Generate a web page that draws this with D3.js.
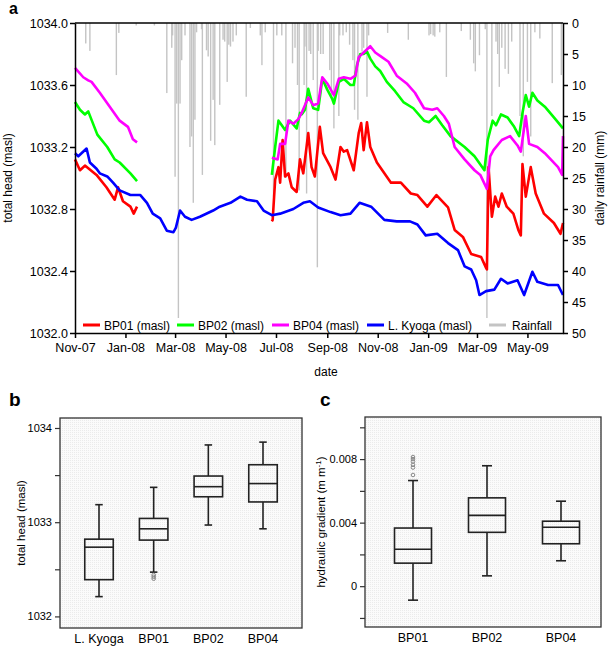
<!DOCTYPE html>
<html><head><meta charset="utf-8">
<script src="https://cdn.jsdelivr.net/npm/d3@7"></script>
<style>
body{margin:0;background:#fff;}
svg{display:block;font-family:"Liberation Sans",Arial,sans-serif;}
</style></head>
<body>
<svg id="chart" width="608" height="648"></svg>
<script>
// ---------------- DATA ----------------
const rainfall = [
["2007-11-14",3.3],["2007-11-19",4.5],["2007-12-21",8.4],["2007-12-24",1.6],["2008-01-14",0.4],["2008-02-05",0.4],
["2008-02-20",11.3],["2008-02-26",4],["2008-02-27",2],["2008-03-01",24.8],["2008-03-03",13],["2008-03-05",49],
["2008-03-07",13],["2008-03-09",6],["2008-03-13",2],["2008-03-19",20],["2008-03-21",18.3],["2008-03-23",29],
["2008-03-25",15.6],["2008-03-27",1.5],["2008-04-02",1],["2008-04-03",24.5],["2008-04-08",4.4],["2008-04-10",5.4],
["2008-04-13",19],["2008-04-16",12.4],["2008-04-18",19.7],["2008-04-24",13.2],["2008-04-28",2.7],["2008-04-30",3],
["2008-05-03",9.5],["2008-05-05",3.5],["2008-05-07",3.8],["2008-05-10",3],["2008-05-14",2],["2008-05-26",11.9],
["2008-05-31",0.8],["2008-06-12",2],["2008-06-14",6.8],["2008-06-18",1.5],["2008-06-28",28],["2008-07-02",2],
["2008-07-08",2],["2008-07-13",25],["2008-07-21",6.5],["2008-07-24",4],["2008-07-27",10],["2008-07-29",27],
["2008-08-04",10],["2008-08-05",3.8],["2008-08-07",27.5],["2008-08-10",4.5],["2008-08-12",5],["2008-08-15",9.2],
["2008-08-20",39.4],["2008-08-21",4.5],["2008-08-24",5],["2008-08-27",5],["2008-09-04",7.6],["2008-09-06",11.6],
["2008-09-09",17],["2008-09-15",15],["2008-09-16",2],["2008-09-20",2],["2008-09-24",1.5],["2008-09-28",3.5],
["2008-10-02",6],["2008-10-04",14],["2008-10-08",15.6],["2008-10-13",4.6],["2008-10-15",4],["2008-10-19",11.9],
["2008-10-21",2],["2008-11-13",1.6],["2008-12-08",2.7],["2009-01-02",2],["2009-01-04",1.8],["2009-01-07",2],
["2009-01-09",2.2],["2009-01-15",1.5],["2009-01-23",8.7],["2009-02-10",1.3],["2009-02-21",2.7],["2009-02-25",6.5],
["2009-02-27",7.8],["2009-03-04",5.2],["2009-03-11",1],["2009-03-13",49],["2009-03-19",15],["2009-03-24",3],
["2009-03-26",5],["2009-03-28",10.3],["2009-03-31",4],["2009-04-04",7.4],["2009-04-08",8.2],["2009-04-12",3],
["2009-04-22",15],["2009-04-26",21.5],["2009-05-01",9.5],["2009-05-05",18.3],["2009-05-10",1.5],["2009-05-16",2.5],
["2009-05-31",9.7],["2009-06-11",8.4]
];

const bp01 = [
["2007-11-01",1033.12],["2007-11-07",1033.05],["2007-11-09",1033.06],["2007-11-13",1033.08],["2007-11-27",1033.02],
["2007-12-09",1032.94],["2007-12-19",1032.86],["2007-12-23",1032.94],["2007-12-29",1032.85],["2008-01-07",1032.815],
["2008-01-11",1032.77],["2008-01-15",1032.815],
["2008-03-01",null],
["2008-06-26",1032.72],["2008-06-27",1032.73],["2008-06-30",1032.99],["2008-07-04",1033.07],["2008-07-06",1032.97],
["2008-07-09",1033.245],["2008-07-12",1033.01],["2008-07-16",1033.03],["2008-07-20",1032.94],["2008-07-26",1032.91],
["2008-07-30",1033.12],["2008-08-03",1033.03],["2008-08-09",1033.29],["2008-08-13",1033.07],["2008-08-17",1033.01],
["2008-08-23",1033.33],["2008-08-27",1033.16],["2008-09-05",1033.07],["2008-09-11",1032.99],["2008-09-17",1033.20],
["2008-09-21",1033.17],["2008-09-25",1033.18],["2008-10-03",1033.05],["2008-10-09",1033.29],["2008-10-12",1033.355],
["2008-10-15",1033.18],["2008-10-19",1033.36],["2008-10-23",1033.20],["2008-10-31",1033.10],["2008-11-17",1032.97],
["2008-11-29",1032.97],["2008-12-11",1032.90],["2008-12-19",1032.89],["2008-12-31",1032.815],["2009-01-11",1032.89],
["2009-01-25",1032.81],["2009-02-02",1032.665],["2009-02-12",1032.62],["2009-02-22",1032.51],["2009-03-06",1032.49],
["2009-03-12",1032.42],["2009-03-13",1032.41],["2009-03-15",1033.07],["2009-03-19",1032.75],["2009-03-23",1032.88],
["2009-03-27",1032.815],["2009-03-31",1032.90],["2009-04-06",1032.815],["2009-04-14",1032.77],["2009-04-20",1032.665],
["2009-04-23",1032.63],["2009-04-25",1033.09],["2009-04-29",1032.88],["2009-05-05",1033.07],["2009-05-11",1032.90],
["2009-05-21",1032.77],["2009-06-02",1032.71],["2009-06-10",1032.64],["2009-06-13",1032.71]
];

const bp02 = [
["2007-11-01",1033.49],["2007-11-07",1033.44],["2007-11-13",1033.41],["2007-11-17",1033.43],["2007-11-28",1033.28],
["2007-12-10",1033.20],["2007-12-19",1033.12],["2007-12-25",1033.10],["2008-01-07",1033.03],["2008-01-15",1032.98],
["2008-03-01",null],
["2008-06-26",1033.02],["2008-06-30",1033.20],["2008-07-04",1033.37],["2008-07-08",1033.34],["2008-07-12",1033.31],
["2008-07-18",1033.37],["2008-07-26",1033.32],["2008-07-30",1033.42],["2008-08-01",1033.41],["2008-08-05",1033.44],
["2008-08-09",1033.575],["2008-08-15",1033.45],["2008-08-21",1033.44],["2008-08-26",1033.64],["2008-09-01",1033.57],
["2008-09-07",1033.51],["2008-09-09",1033.48],["2008-09-15",1033.62],["2008-09-21",1033.64],["2008-09-29",1033.60],
["2008-10-03",1033.60],["2008-10-07",1033.73],["2008-10-11",1033.80],["2008-10-15",1033.80],["2008-10-19",1033.815],
["2008-10-23",1033.77],["2008-10-29",1033.72],["2008-11-04",1033.69],["2008-11-12",1033.62],["2008-11-22",1033.56],
["2008-12-02",1033.49],["2008-12-14",1033.45],["2008-12-27",1033.37],["2009-01-02",1033.36],["2009-01-10",1033.40],
["2009-01-18",1033.34],["2009-01-28",1033.27],["2009-02-14",1033.20],["2009-02-26",1033.14],["2009-03-10",1033.05],
["2009-03-14",1033.245],["2009-03-20",1033.37],["2009-03-24",1033.34],["2009-03-30",1033.41],["2009-04-07",1033.39],
["2009-04-15",1033.33],["2009-04-21",1033.27],["2009-04-25",1033.42],["2009-04-29",1033.535],["2009-05-03",1033.46],
["2009-05-07",1033.55],["2009-05-13",1033.50],["2009-05-22",1033.46],["2009-06-03",1033.385],["2009-06-13",1033.32]
];

const bp04 = [
["2007-11-01",1033.71],["2007-11-11",1033.65],["2007-11-17",1033.63],["2007-11-21",1033.62],["2007-12-01",1033.55],
["2007-12-13",1033.46],["2007-12-25",1033.37],["2008-01-04",1033.33],["2008-01-10",1033.25],["2008-01-15",1033.23],
["2008-03-01",null],
["2008-06-26",1033.13],["2008-07-03",1033.12],["2008-07-06",1033.22],["2008-07-12",1033.22],["2008-07-16",1033.37],
["2008-07-22",1033.35],["2008-07-28",1033.38],["2008-08-01",1033.42],["2008-08-09",1033.52],["2008-08-15",1033.47],
["2008-08-21",1033.48],["2008-08-26",1033.65],["2008-09-01",1033.61],["2008-09-09",1033.535],["2008-09-15",1033.64],
["2008-09-21",1033.65],["2008-09-29",1033.64],["2008-10-05",1033.66],["2008-10-09",1033.78],["2008-10-15",1033.81],
["2008-10-23",1033.85],["2008-10-29",1033.81],["2008-11-06",1033.78],["2008-11-14",1033.75],["2008-11-24",1033.66],
["2008-12-06",1033.61],["2008-12-16",1033.55],["2008-12-27",1033.45],["2009-01-06",1033.44],["2009-01-12",1033.45],
["2009-01-20",1033.40],["2009-01-26",1033.35],["2009-02-02",1033.20],["2009-02-14",1033.12],["2009-02-26",1033.05],
["2009-03-05",1033.02],["2009-03-13",1032.93],["2009-03-17",1033.14],["2009-03-21",1033.18],["2009-03-31",1033.245],
["2009-04-10",1033.27],["2009-04-19",1033.21],["2009-04-23",1033.17],["2009-04-29",1033.40],["2009-05-03",1033.22],
["2009-05-13",1033.20],["2009-05-22",1033.16],["2009-06-07",1033.07],["2009-06-12",1033.02],["2009-06-13",1033.27]
];

const kyoga = [
["2007-11-01",1033.16],["2007-11-05",1033.14],["2007-11-15",1033.19],["2007-11-19",1033.10],["2007-11-27",1033.06],
["2007-12-01",1033.03],["2007-12-10",1033.01],["2007-12-17",1032.97],["2007-12-25",1032.92],["2008-01-07",1032.89],
["2008-01-19",1032.89],["2008-01-27",1032.84],["2008-02-03",1032.77],["2008-02-12",1032.74],["2008-02-20",1032.66],
["2008-02-28",1032.65],["2008-03-02",1032.68],["2008-03-07",1032.79],["2008-03-13",1032.75],["2008-03-21",1032.73],
["2008-03-31",1032.75],["2008-04-16",1032.79],["2008-04-24",1032.815],["2008-05-07",1032.84],["2008-05-19",1032.88],
["2008-05-27",1032.86],["2008-06-08",1032.85],["2008-06-16",1032.79],["2008-06-26",1032.76],["2008-07-06",1032.77],
["2008-07-22",1032.80],["2008-08-03",1032.84],["2008-08-11",1032.85],["2008-08-21",1032.81],["2008-09-05",1032.78],
["2008-09-17",1032.76],["2008-09-29",1032.77],["2008-10-10",1032.84],["2008-10-24",1032.815],["2008-11-09",1032.73],
["2008-11-24",1032.72],["2008-12-10",1032.72],["2008-12-19",1032.70],["2008-12-29",1032.63],["2009-01-12",1032.64],
["2009-01-25",1032.58],["2009-02-06",1032.535],["2009-02-14",1032.43],["2009-02-22",1032.41],["2009-02-28",1032.34],
["2009-03-04",1032.245],["2009-03-12",1032.27],["2009-03-22",1032.28],["2009-03-30",1032.35],["2009-04-07",1032.32],
["2009-04-19",1032.34],["2009-04-27",1032.245],["2009-05-07",1032.395],["2009-05-13",1032.33],["2009-05-26",1032.31],
["2009-06-07",1032.31],["2009-06-13",1032.245]
];

const headTicks = [1032.0, 1032.4, 1032.8, 1033.2, 1033.6, 1034.0];
const rainTicks = [0, 5, 10, 15, 20, 25, 30, 35, 40, 45, 50];

// panel b: total head box plots
const bCategories = ["L. Kyoga", "BP01", "BP02", "BP04"];
const bLower  = [1032.21, 1032.47, 1032.97, 1032.93];
const bQ1     = [1032.39, 1032.81, 1033.27, 1033.215];
const bMedian = [1032.735, 1032.93, 1033.377, 1033.41];
const bQ3     = [1032.82, 1033.04, 1033.49, 1033.61];
const bUpper  = [1033.186, 1033.37, 1033.82, 1033.85];
const bOutliers = [["BP01",1032.44],["BP01",1032.42],["BP01",1032.40]];
const bTicks = [1032, 1032.5, 1033, 1033.5, 1034];
const bLabels = [1032, 1033, 1034];

// panel c: hydraulic gradient box plots
const cCategories = ["BP01", "BP02", "BP04"];
const cLower  = [-0.00088, 0.00065, 0.0016];
const cQ1     = [0.00145, 0.00339, 0.00267];
const cMedian = [0.00232, 0.00446, 0.00371];
const cQ3     = [0.00366, 0.00556, 0.00409];
const cUpper  = [0.00665, 0.00758, 0.00535];
const cOutliers = [["BP01",0.0070],["BP01",0.00747],["BP01",0.00764],["BP01",0.00785],["BP01",0.0080],["BP01",0.00813]];
const cTicks = [-0.002, 0, 0.002, 0.004, 0.006, 0.008, 0.010];
const cLabels = [0, 0.004, 0.008];

// ---------------- DRAW ----------------
const parse = d3.timeParse("%Y-%m-%d");
const svg = d3.select("#chart");
const FONT = '"Liberation Sans",Arial,sans-serif';

// ===== Panel a =====
const L = 75, R = 563, T = 23, B = 333;
const x = d3.scaleTime().domain([parse("2007-11-01"), parse("2009-06-13")]).range([L, R]);
const yH = d3.scaleLinear().domain([1032, 1034]).range([B, T]);
const yR = d3.scaleLinear().domain([0, 50]).range([T, B]);

const gA = svg.append("g");

// rainfall bars
gA.append("g").selectAll("rect").data(rainfall).join("rect")
  .attr("x", d => x(parse(d[0])) - 0.7)
  .attr("y", T)
  .attr("width", 1.4)
  .attr("height", d => yR(d[1]) - T)
  .attr("fill", "#c4c4c4");

// lines
const line = d3.line()
  .defined(d => d[1] !== null)
  .x(d => x(parse(d[0])))
  .y(d => yH(d[1]))
  .curve(d3.curveLinear);

const series = [
  {data: bp01, color: "#ff0000"},
  {data: bp02, color: "#00ff00"},
  {data: bp04, color: "#ff00ff"},
  {data: kyoga, color: "#0000ff"}
];
series.forEach(s => {
  gA.append("path").datum(s.data)
    .attr("d", line)
    .attr("fill", "none")
    .attr("stroke", s.color)
    .attr("stroke-width", 2.6)
    .attr("stroke-linejoin", "round");
});

// legend (white background)
gA.append("rect").attr("x", L + 1).attr("y", 318).attr("width", R - L - 2).attr("height", 14).attr("fill", "#fff");
const legendItems = [
  {label: "BP01 (masl)", color: "#ff0000", x0: 83},
  {label: "BP02 (masl)", color: "#00ff00", x0: 177},
  {label: "BP04 (masl)", color: "#ff00ff", x0: 272},
  {label: "L. Kyoga (masl)", color: "#0000ff", x0: 367},
  {label: "Rainfall", color: "#c4c4c4", x0: 489}
];
const lg = gA.append("g").selectAll("g").data(legendItems).join("g");
lg.append("line").attr("x1", d => d.x0).attr("x2", d => d.x0 + 17)
  .attr("y1", 325).attr("y2", 325).attr("stroke", d => d.color).attr("stroke-width", 3);
lg.append("text").attr("x", d => d.x0 + 21 + (d.label === "Rainfall" ? 2 : 0)).attr("y", 329.5)
  .attr("font-size", 12).attr("font-family", FONT).text(d => d.label);

// axes
const axLeft = gA.append("g").attr("transform", `translate(${L},0)`)
  .call(d3.axisLeft(yH).tickValues(headTicks).tickFormat(d3.format(".1f")).tickSize(5).tickSizeOuter(0));
const axBottom = gA.append("g").attr("transform", `translate(0,${B})`)
  .call(d3.axisBottom(x).ticks(d3.timeMonth.every(2)).tickFormat(d3.timeFormat("%b-%y")).tickSize(5).tickSizeOuter(0));
const axRight = gA.append("g").attr("transform", `translate(${R},0)`)
  .call(d3.axisRight(yR).tickValues(rainTicks).tickSize(5).tickSizeOuter(0));
gA.append("line").attr("x1", L).attr("x2", R).attr("y1", T).attr("y2", T).attr("stroke", "#000").attr("stroke-width", 1.5);

[axLeft, axBottom, axRight].forEach(a => {
  a.selectAll("text").attr("font-size", 12.5).attr("font-family", FONT).attr("fill", "#000");
  a.selectAll("line,path").attr("stroke", "#000").attr("stroke-width", 1.5);
});
axLeft.selectAll("text").attr("x", -7);
axRight.selectAll("text").attr("x", 9);
axBottom.selectAll("text").attr("y", 10);

gA.append("text").attr("transform", `translate(12,${(T + B) / 2}) rotate(-90)`).attr("text-anchor", "middle")
  .attr("font-size", 12).attr("font-family", FONT).text("total head (masl)");
gA.append("text").attr("transform", `translate(604,${(T + B) / 2}) rotate(-90)`).attr("text-anchor", "middle")
  .attr("font-size", 12).attr("font-family", FONT).text("daily rainfall (mm)");
gA.append("text").attr("x", 326).attr("y", 376).attr("text-anchor", "middle")
  .attr("font-size", 12).attr("font-family", FONT).text("date");
svg.append("text").attr("x", 9).attr("y", 14).attr("font-size", 16).attr("font-weight", "bold")
  .attr("font-family", FONT).text("a");

// ===== dotted background pattern =====
const defs = svg.append("defs");
const pat = defs.append("pattern").attr("id", "dots").attr("width", 2).attr("height", 2).attr("patternUnits", "userSpaceOnUse");
pat.append("rect").attr("width", 2).attr("height", 2).attr("fill", "#fbfbfb");
pat.append("rect").attr("width", 1).attr("height", 1).attr("fill", "#ebebeb");

// ===== box plot helper =====
function boxPanel(cfg) {
  const g = svg.append("g");
  const xs = d3.scalePoint().domain(cfg.cats).range([cfg.left + cfg.padL, cfg.right - cfg.padR]);
  const ys = d3.scaleLinear().domain(cfg.domain).range([cfg.bottom, cfg.top]);
  g.append("rect").attr("x", cfg.left).attr("y", cfg.top).attr("width", cfg.right - cfg.left)
    .attr("height", cfg.bottom - cfg.top).attr("fill", "url(#dots)").attr("stroke", "#333").attr("stroke-width", 1.3);
  const stats = cfg.cats.map((c, i) => ({c, lo: cfg.lower[i], q1: cfg.q1[i], med: cfg.median[i], q3: cfg.q3[i], hi: cfg.upper[i]}));
  const bw = cfg.boxW, cw = cfg.capW;
  const bx = g.selectAll("g.box").data(stats).join("g").attr("class", "box");
  function styl(sel) { return sel.attr("stroke", "#222").attr("stroke-width", 1.6); }
  styl(bx.append("line").attr("x1", d => xs(d.c)).attr("x2", d => xs(d.c)).attr("y1", d => ys(d.lo)).attr("y2", d => ys(d.q1)));
  styl(bx.append("line").attr("x1", d => xs(d.c)).attr("x2", d => xs(d.c)).attr("y1", d => ys(d.q3)).attr("y2", d => ys(d.hi)));
  styl(bx.append("line").attr("x1", d => xs(d.c) - cw / 2).attr("x2", d => xs(d.c) + cw / 2).attr("y1", d => ys(d.lo)).attr("y2", d => ys(d.lo)));
  styl(bx.append("line").attr("x1", d => xs(d.c) - cw / 2).attr("x2", d => xs(d.c) + cw / 2).attr("y1", d => ys(d.hi)).attr("y2", d => ys(d.hi)));
  styl(bx.append("rect").attr("x", d => xs(d.c) - bw / 2).attr("width", bw).attr("y", d => ys(d.q3))
    .attr("height", d => ys(d.q1) - ys(d.q3)).attr("fill", "none"));
  styl(bx.append("line").attr("x1", d => xs(d.c) - bw / 2).attr("x2", d => xs(d.c) + bw / 2).attr("y1", d => ys(d.med)).attr("y2", d => ys(d.med)));
  g.selectAll("circle").data(cfg.outliers).join("circle")
    .attr("cx", d => xs(d[0])).attr("cy", d => ys(d[1])).attr("r", 1.8)
    .attr("fill", "none").attr("stroke", "#888").attr("stroke-width", 1);
  // y axis
  const ay = g.append("g").attr("transform", `translate(${cfg.left},0)`)
    .call(d3.axisLeft(ys).tickValues(cfg.ticks).tickSize(5).tickSizeOuter(0)
      .tickFormat(d => cfg.labels.some(v => Math.abs(v - d) < 1e-9) ? cfg.fmt(d) : ""));
  ay.select(".domain").remove();
  ay.selectAll("line").attr("stroke", "#333").attr("stroke-width", 1.2);
  ay.selectAll("text").attr("font-size", 11).attr("font-family", FONT).attr("fill", "#000").attr("x", -8);
  // category labels
  g.selectAll("text.cat").data(cfg.cats).join("text").attr("class", "cat")
    .attr("x", d => xs(d)).attr("y", cfg.bottom + 15).attr("text-anchor", "middle")
    .attr("font-size", 12.5).attr("font-family", FONT).text(d => d);
  return g;
}

boxPanel({
  cats: bCategories, lower: bLower, q1: bQ1, median: bMedian, q3: bQ3, upper: bUpper, outliers: bOutliers,
  left: 60, right: 302, top: 418, bottom: 628, padL: 39, padR: 39,
  domain: [1031.877, 1034.106], ticks: bTicks, labels: bLabels, fmt: d3.format("d"),
  boxW: 28.5, capW: 7.5
});
boxPanel({
  cats: cCategories, lower: cLower, q1: cQ1, median: cMedian, q3: cQ3, upper: cUpper, outliers: cOutliers,
  left: 365, right: 601, top: 417, bottom: 627, padL: 48, padR: 40,
  domain: [-0.00257, 0.01065], ticks: cTicks, labels: cLabels, fmt: d => d === 0 ? "0" : d3.format(".3f")(d),
  boxW: 37, capW: 10
});

// panel b/c titles
svg.append("text").attr("transform", `translate(25,523) rotate(-90)`).attr("text-anchor", "middle")
  .attr("font-size", 11.5).attr("font-family", FONT).text("total head (masl)");
const ct = svg.append("text").attr("transform", `translate(325,522) rotate(-90)`).attr("text-anchor", "middle")
  .attr("font-size", 11.5).attr("font-family", FONT);
ct.append("tspan").text("hydraulic gradient (m m");
ct.append("tspan").attr("dy", -4).attr("font-size", 8).text("-1");
ct.append("tspan").attr("dy", 4).text(")");

svg.append("text").attr("x", 9).attr("y", 406).attr("font-size", 19).attr("font-weight", "bold")
  .attr("font-family", FONT).text("b");
svg.append("text").attr("x", 320).attr("y", 406).attr("font-size", 19).attr("font-weight", "bold")
  .attr("font-family", FONT).text("c");
</script>
</body></html>
